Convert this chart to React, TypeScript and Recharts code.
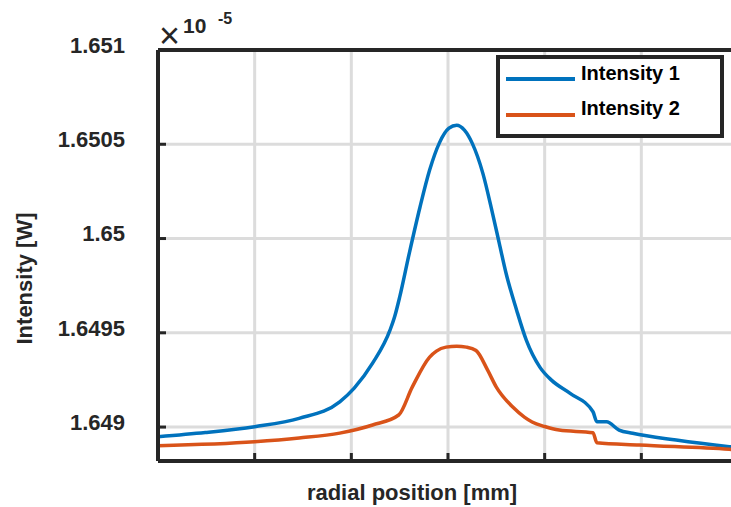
import { CartesianGrid, Legend, Line, LineChart, XAxis, YAxis } from "recharts";

const FONT = '"Liberation Sans", Arial, Helvetica, sans-serif';
const INK = "#262626";

// radial position (mm) and intensity (×1e-5 W)
const xTicks = [-3, -2, -1, 0, 1, 2, 3];
const yTicks = [1.649, 1.6495, 1.65, 1.6505, 1.651];

const intensity1X = [
  -3.0, -2.51, -2.0, -1.54, -1.12, -0.97, -0.78, -0.6, -0.55, -0.5, -0.4, -0.29, -0.19, -0.09, 0.01, 0.09, 0.17,
  0.25, 0.36, 0.46, 0.53, 0.6, 0.71, 0.81, 0.95, 1.07, 1.26, 1.5, 1.54, 1.64, 1.77, 1.91, 2.36, 2.91, 3.0,
];
const intensity1Y = [
  1.648949, 1.648971, 1.649002, 1.649046, 1.649134, 1.649207, 1.649339, 1.649514, 1.649589, 1.649689, 1.649923,
  1.650166, 1.650363, 1.650506, 1.650585, 1.650601, 1.650575, 1.650506, 1.650347, 1.650135, 1.649976, 1.649817,
  1.64962, 1.649461, 1.649318, 1.649249, 1.64918, 1.649081, 1.649028, 1.649028, 1.648984, 1.648967, 1.648931,
  1.648896, 1.648891,
];

const intensity2X = [
  -3.0, -2.0, -1.54, -1.12, -0.78, -0.51, -0.37, -0.19, -0.12, -0.02, 0.09, 0.19, 0.29, 0.41, 0.5, 0.67, 0.79, 0.87,
  1.0, 1.15, 1.5, 1.54, 1.98, 2.91, 3.0,
];
const intensity2Y = [
  1.648901, 1.648922, 1.648942, 1.648968, 1.649011, 1.649064, 1.649212, 1.649371, 1.649403, 1.649424, 1.649429,
  1.649424, 1.649406, 1.649302, 1.649212, 1.649106, 1.649053, 1.649027, 1.649003, 1.648984, 1.64897, 1.648917,
  1.648905, 1.648882, 1.648879,
];

const toPoints = (xs: number[], ys: number[]) => xs.map((x, i) => ({ x, v: ys[i] }));
const series1 = toPoints(intensity1X, intensity1Y);
const series2 = toPoints(intensity2X, intensity2Y);

// label + inward tick mark (tick sits 33px right of the label anchor)
function YTick({ x, y, payload }: any) {
  return (
    <g>
      <line x1={x + 33} x2={x + 41} y1={y} y2={y} stroke={INK} strokeWidth={3} />
      <text x={x} y={y - 5} dy="0.36em" textAnchor="end" fontFamily={FONT} fontWeight="bold" fontSize={22} fill={INK}>
        {String(payload.value)}
      </text>
    </g>
  );
}

function BottomTick({ x, y }: any) {
  return <line x1={x} x2={x} y1={y} y2={y - 8} stroke={INK} strokeWidth={3} />;
}

function TopTick({ x, y }: any) {
  return <line x1={x} x2={x} y1={y} y2={y + 8} stroke={INK} strokeWidth={3} />;
}

function XLabel({ viewBox }: any) {
  const cx = viewBox.x + viewBox.width / 2 - 36;
  return (
    <text x={cx} y={viewBox.y + 39} textAnchor="middle" fontFamily={FONT} fontWeight="bold" fontSize={22} fill={INK}>
      radial position [mm]
    </text>
  );
}

function YLabel({ viewBox }: any) {
  const cx = viewBox.x + 24;
  const cy = viewBox.y + viewBox.height / 2 + 23;
  return (
    <text
      x={cx}
      y={cy}
      dy="0.36em"
      transform={`rotate(-90, ${cx}, ${cy})`}
      textAnchor="middle"
      fontFamily={FONT}
      fontWeight="bold"
      fontSize={22}
      fill={INK}
    >
      Intensity [W]
    </text>
  );
}

function LegendBox({ payload }: any) {
  return (
    <div
      style={{
        boxSizing: "border-box",
        width: 228,
        height: 83,
        border: `4.5px solid ${INK}`,
        background: "#fff",
        position: "relative",
      }}
    >
      {(payload || []).map((p: any, i: number) => (
        <div key={p.value}>
          <div style={{ position: "absolute", left: 5.5, top: 17.5 + 36 * i, width: 69, height: 4, background: p.color }} />
          <span
            style={{
              position: "absolute",
              left: 81,
              top: 4 + 35 * i,
              fontFamily: FONT,
              fontWeight: "bold",
              fontSize: 20,
              lineHeight: "21px",
              color: "#000",
              whiteSpace: "nowrap",
            }}
          >
            {p.value}
          </span>
        </div>
      ))}
    </div>
  );
}

export default function App() {
  return (
    <div style={{ position: "fixed", left: 0, top: 0, width: 731, height: 507, overflow: "hidden", background: "#fff" }}>
      <LineChart width={760} height={507} margin={{ top: 48, right: 22, bottom: 0, left: 0 }}>
        <CartesianGrid stroke="#dcdcdc" strokeWidth={3} />
        <XAxis
          dataKey="x"
          type="number"
          domain={[-3, 3]}
          ticks={xTicks}
          interval={0}
          height={46}
          tick={<BottomTick />}
          tickSize={0}
          tickMargin={0}
          tickLine={false}
          axisLine={{ stroke: INK, strokeWidth: 4 }}
          label={<XLabel />}
        />
        <XAxis
          xAxisId="top"
          orientation="top"
          dataKey="x"
          type="number"
          domain={[-3, 3]}
          ticks={xTicks}
          interval={0}
          height={2}
          tick={<TopTick />}
          tickSize={0}
          tickMargin={0}
          tickLine={false}
          axisLine={{ stroke: INK, strokeWidth: 4 }}
        />
        <YAxis
          type="number"
          domain={[1.64882, 1.651]}
          ticks={yTicks}
          interval={0}
          width={158}
          tickSize={0}
          tickMargin={33}
          tickLine={false}
          tick={<YTick />}
          axisLine={{ stroke: INK, strokeWidth: 4 }}
          label={<YLabel />}
        />
        <Legend
          layout="vertical"
          align="center"
          verticalAlign="middle"
          wrapperStyle={{ left: 496, top: 55, width: 228, height: 83 }}
          content={<LegendBox />}
        />
        <Line
          data={series1}
          dataKey="v"
          name="Intensity 1"
          type="monotone"
          stroke="#0072BD"
          strokeWidth={3.5}
          dot={false}
          isAnimationActive={false}
        />
        <Line
          data={series2}
          dataKey="v"
          name="Intensity 2"
          type="monotone"
          stroke="#D95319"
          strokeWidth={3.5}
          dot={false}
          isAnimationActive={false}
        />
      </LineChart>
      <svg width={260} height={60} style={{ position: "absolute", left: 0, top: 0, pointerEvents: "none" }}>
        <text x={159} y={48} fontFamily={FONT} fontSize={36} fill={INK}>
          ×
        </text>
        <text x={183} y={33} fontFamily={FONT} fontWeight="bold" fontSize={21} fill={INK}>
          10
        </text>
        <text x={218} y={24} fontFamily={FONT} fontWeight="bold" fontSize={16} fill={INK}>
          -5
        </text>
      </svg>
    </div>
  );
}
